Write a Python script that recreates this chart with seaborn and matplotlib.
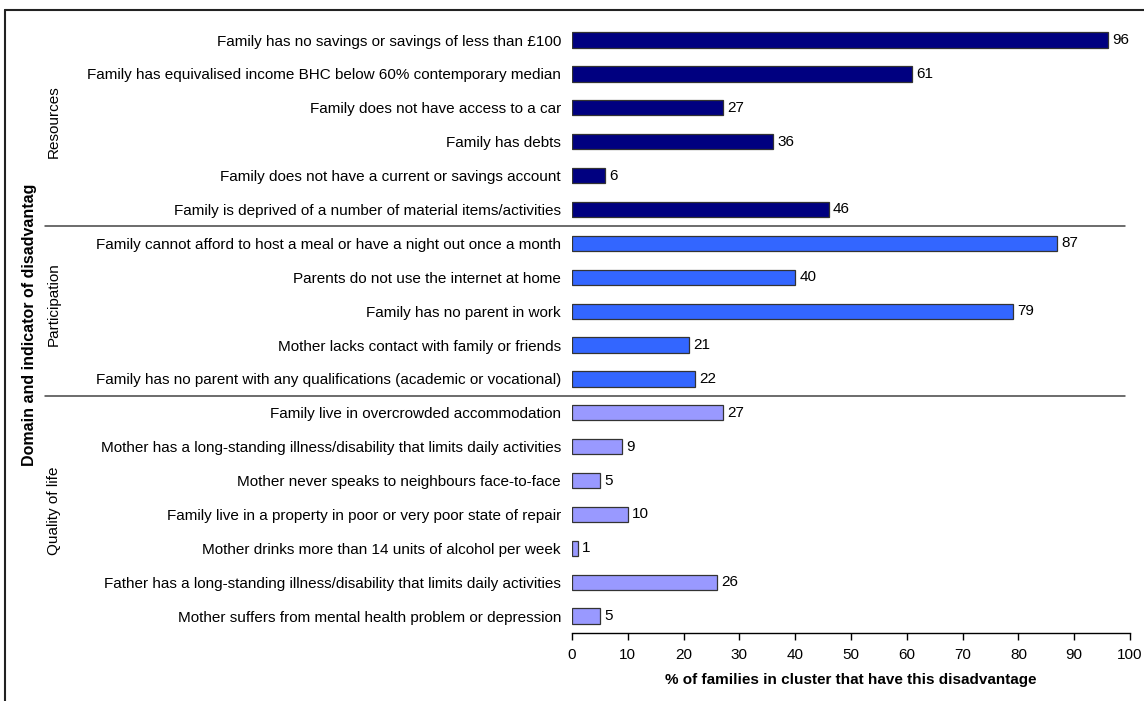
import matplotlib
matplotlib.use("Agg")
import matplotlib.pyplot as plt
from matplotlib.lines import Line2D
import pandas as pd
import seaborn as sns

indicators = [
    "Family has no savings or savings of less than £100",
    "Family has equivalised income BHC below 60% contemporary median",
    "Family does not have access to a car",
    "Family has debts",
    "Family does not have a current or savings account",
    "Family is deprived of a number of material items/activities",
    "Family cannot afford to host a meal or have a night out once a month",
    "Parents do not use the internet at home",
    "Family has no parent in work",
    "Mother lacks contact with family or friends",
    "Family has no parent with any qualifications (academic or vocational)",
    "Family live in overcrowded accommodation",
    "Mother has a long-standing illness/disability that limits daily activities",
    "Mother never speaks to neighbours face-to-face",
    "Family live in a property in poor or very poor state of repair",
    "Mother drinks more than 14 units of alcohol per week",
    "Father has a long-standing illness/disability that limits daily activities",
    "Mother suffers from mental health problem or depression",
]
values = [96, 61, 27, 36, 6, 46, 87, 40, 79, 21, 22, 27, 9, 5, 10, 1, 26, 5]
domains = ["Resources"] * 6 + ["Participation"] * 5 + ["Quality of life"] * 7
domain_order = ["Resources", "Participation", "Quality of life"]
domain_colors = {"Resources": "#000080", "Participation": "#3366FF", "Quality of life": "#9999FF"}
xticks = list(range(0, 101, 10))

df = pd.DataFrame({"indicator": indicators, "value": values, "domain": domains})

sns.set_style("white")
plt.rcParams["font.family"] = ["Liberation Sans", "DejaVu Sans"]
plt.rcParams["text.color"] = "black"
plt.rcParams["axes.labelcolor"] = "black"
plt.rcParams["xtick.color"] = "black"
plt.rcParams["ytick.color"] = "black"

FS = 11

fig = plt.figure(figsize=(11.44, 7.01), dpi=100)
ax = fig.add_axes([0.5, 0.097, 0.4878, 0.870])

sns.barplot(data=df, x="value", y="indicator", hue="domain", hue_order=domain_order,
            palette=domain_colors, saturation=1, orient="h", dodge=False, width=0.45,
            edgecolor="#333333", linewidth=0.9, legend=False, ax=ax)

for cont in ax.containers:
    ax.bar_label(cont, fmt="%g", padding=3, fontsize=FS, color="black")

ax.set_xlim(0, 100)
ax.set_ylim(len(indicators) - 0.5, -0.5)
ax.set_xticks(xticks)
ax.set_xticklabels([str(t) for t in xticks], fontsize=FS)
ax.tick_params(axis="x", direction="out", length=5, width=1, color="black", pad=6, bottom=True)
ax.tick_params(axis="y", length=0, labelsize=FS, pad=8)
for s in ["top", "right", "left"]:
    ax.spines[s].set_visible(False)
ax.spines["bottom"].set_color("black")
ax.spines["bottom"].set_linewidth(1)

ax.set_xlabel("% of families in cluster that have this disadvantage",
              fontsize=FS, fontweight="bold", labelpad=8)
ax.set_ylabel("")

# separators between domains, running under the category labels
for ypos in [5.5, 10.5]:
    ax.axhline(ypos, xmin=-0.944, xmax=0.991, color="#444444", linewidth=1.1, clip_on=False)

# domain names beside each group
trans = ax.get_yaxis_transform()
group_centers = {"Resources": 2.4, "Participation": 7.8, "Quality of life": 13.9}
for name, yc in group_centers.items():
    ax.text(-0.928, yc, name, transform=trans, rotation=90, ha="center", va="center",
            fontsize=FS)

fig.text(0.026, 0.536, "Domain and indicator of disadvantag", rotation=90,
         ha="center", va="center", fontsize=11.5, fontweight="bold")

# outer frame edges
fig.add_artist(Line2D([5 / 1144, 5 / 1144], [0, 1 - 10 / 701], transform=fig.transFigure,
                      color="#222222", linewidth=1.5))
fig.add_artist(Line2D([5 / 1144, 1], [1 - 10 / 701, 1 - 10 / 701], transform=fig.transFigure,
                      color="#222222", linewidth=1.5))

fig.savefig("out.png", dpi=100)
